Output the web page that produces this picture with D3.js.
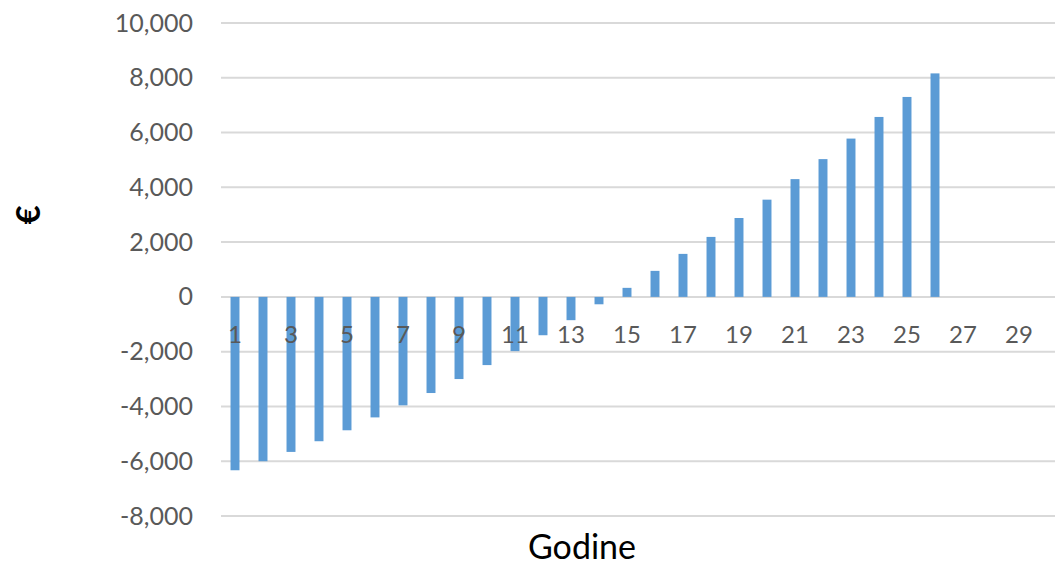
<!DOCTYPE html>
<html>
<head>
<meta charset="utf-8">
<script src="https://cdn.jsdelivr.net/npm/d3@7/dist/d3.min.js"></script>
<style>
  html, body { margin: 0; padding: 0; background: #fff; overflow: hidden; }
  svg { display: block; }
</style>
</head>
<body>
<svg id="chart" width="1055" height="566"></svg>
<script>
// Years 1..30 and the cumulative cash flow (€) for each year
const years = d3.range(1, 31);
const cashFlow = [
  -6330, -6000, -5660, -5270, -4870, -4400, -3960, -3510, -3000, -2490,
  -1980, -1400, -850, -270, 330, 950, 1570, 2190, 2880, 3550,
  4300, 5030, 5780, 6570, 7300, 8160, null, null, null, null
];
const yTicks = [-8000, -6000, -4000, -2000, 0, 2000, 4000, 6000, 8000, 10000];
const xTickLabels = years.filter(d => d % 2 === 1);
const xTitle = "Godine";
const yTitle = "€";

const data = years.map((y, i) => ({ year: y, value: cashFlow[i] }));

const svg = d3.select("#chart");
const font = "Lato, 'Open Sans', sans-serif";

const x = d3.scaleBand()
  .domain(years)
  .range([221, 1061])
  .paddingInner(0.68)
  .paddingOuter(0.34);

const y = d3.scaleLinear()
  .domain([-8000, 10000])
  .range([516, 23]);

// thousands separator with a plain hyphen for negatives
const fmt = d => d3.format(",")(d).replace("\u2212", "-");

// horizontal gridlines
svg.append("g")
  .selectAll("line")
  .data(yTicks)
  .join("line")
  .attr("x1", 221)
  .attr("x2", 1061)
  .attr("y1", d => y(d))
  .attr("y2", d => y(d))
  .attr("stroke", "#d9d9d9")
  .attr("stroke-width", 2);

// y axis labels
const yAxis = d3.axisLeft(y)
  .tickValues(yTicks)
  .tickSize(0)
  .tickPadding(0)
  .tickFormat(fmt);

svg.append("g")
  .attr("transform", "translate(193,0)")
  .call(yAxis)
  .call(g => g.select(".domain").remove())
  .call(g => g.selectAll("text")
    .attr("font-family", font)
    .attr("font-size", 25)
    .attr("fill", "#595959"));

// bars
svg.append("g")
  .selectAll("rect")
  .data(data.filter(d => d.value !== null))
  .join("rect")
  .attr("x", d => x(d.year))
  .attr("width", x.bandwidth())
  .attr("y", d => y(Math.max(0, d.value)))
  .attr("height", d => Math.abs(y(d.value) - y(0)))
  .attr("fill", "#5b9bd5");

// category labels sit just below the zero line
const xAxis = d3.axisBottom(x)
  .tickValues(xTickLabels)
  .tickSize(0)
  .tickPadding(0);

svg.append("g")
  .attr("transform", `translate(0,${y(0) + 29})`)
  .call(xAxis)
  .call(g => g.select(".domain").remove())
  .call(g => g.selectAll("text")
    .attr("font-family", font)
    .attr("font-size", 24)
    .attr("fill", "#595959"));

// axis titles
svg.append("text")
  .attr("x", 582)
  .attr("y", 559)
  .attr("text-anchor", "middle")
  .attr("font-family", font)
  .attr("font-size", 34)
  .attr("fill", "#000")
  .text(xTitle);

svg.append("text")
  .attr("transform", "translate(40,215) rotate(-90)")
  .attr("text-anchor", "middle")
  .attr("font-family", font)
  .attr("font-size", 33)
  .attr("font-weight", "bold")
  .attr("fill", "#000")
  .text(yTitle);
</script>
</body>
</html>
